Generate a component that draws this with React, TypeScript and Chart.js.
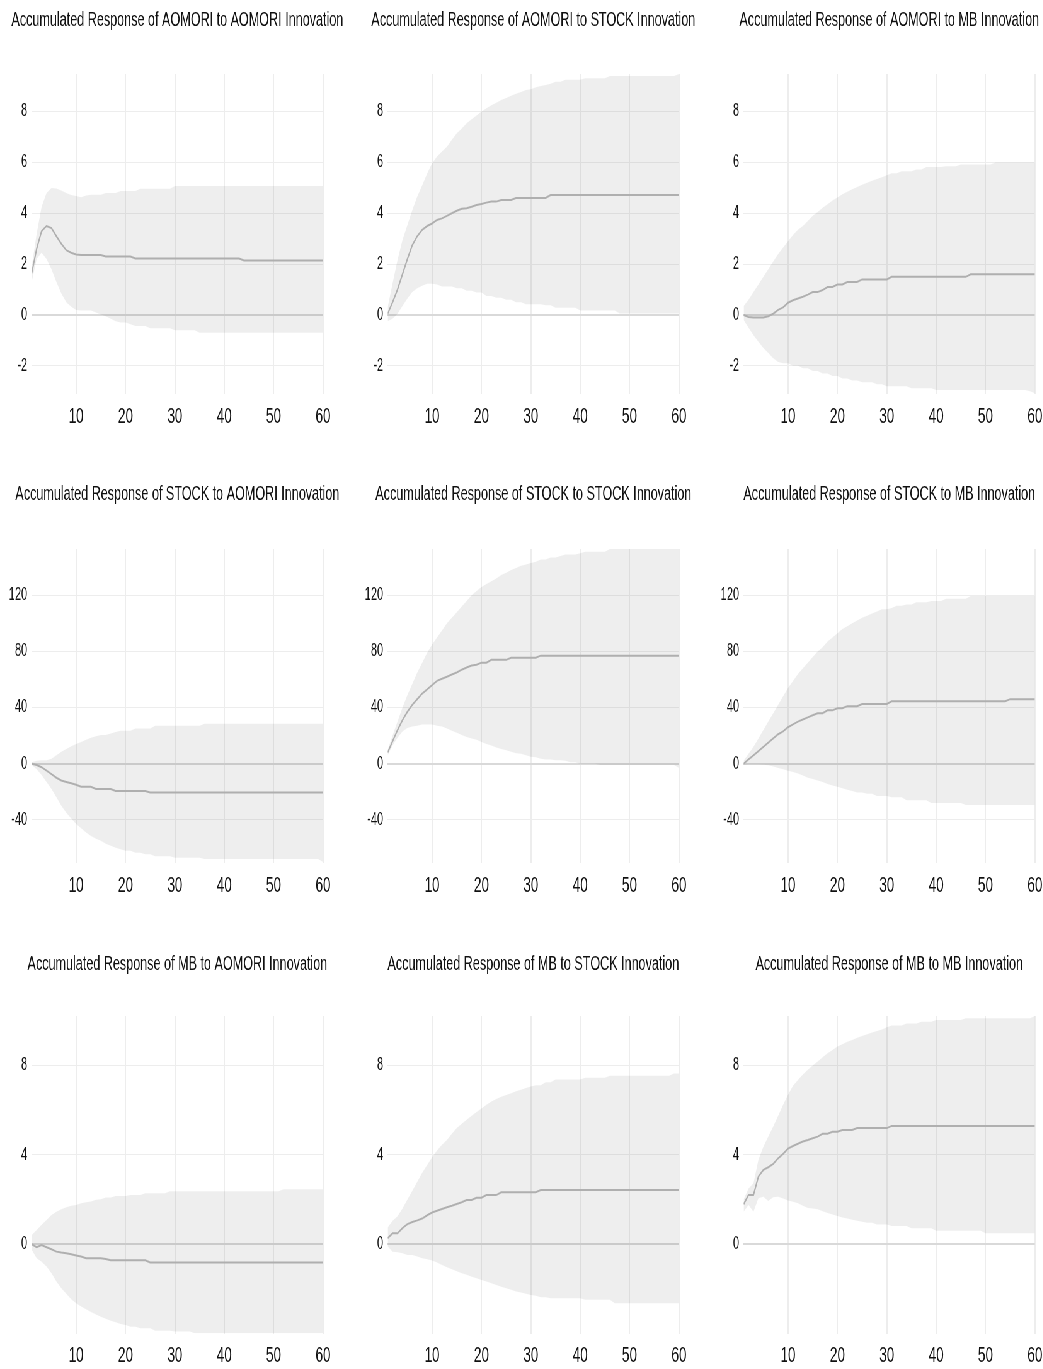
import React, { useEffect, useRef } from "react";
import { Chart, registerables } from "chart.js";

Chart.register(...registerables);

// ---------------- data ----------------
const periods = [
  1, 2, 3, 4, 5, 6, 7, 8, 9, 10, 11, 12, 13, 14, 15, 16, 17, 18, 19, 20,
  21, 22, 23, 24, 25, 26, 27, 28, 29, 30, 31, 32, 33, 34, 35, 36, 37, 38, 39, 40,
  41, 42, 43, 44, 45, 46, 47, 48, 49, 50, 51, 52, 53, 54, 55, 56, 57, 58, 59, 60,
];
const xTickValues = [10, 20, 30, 40, 50, 60];
const yTicksRow1 = [-2, 0, 2, 4, 6, 8];
const yTicksRow2 = [-40, 0, 40, 80, 120];
const yTicksRow3 = [0, 4, 8];

const titles = [
  "Accumulated Response of AOMORI to AOMORI Innovation",
  "Accumulated Response of AOMORI to STOCK Innovation",
  "Accumulated Response of AOMORI to MB Innovation",
  "Accumulated Response of STOCK to AOMORI Innovation",
  "Accumulated Response of STOCK to STOCK Innovation",
  "Accumulated Response of STOCK to MB Innovation",
  "Accumulated Response of MB to AOMORI Innovation",
  "Accumulated Response of MB to STOCK Innovation",
  "Accumulated Response of MB to MB Innovation",
];

// AOMORI <- AOMORI
const irfAA = [
  1.64, 2.6, 3.3, 3.5, 3.42, 3.1, 2.8, 2.55, 2.45, 2.38,
  2.36, 2.36, 2.36, 2.36, 2.36, 2.3, 2.3, 2.3, 2.3, 2.3,
  2.3, 2.22, 2.22, 2.22, 2.22, 2.22, 2.22, 2.22, 2.22, 2.22,
  2.22, 2.22, 2.22, 2.22, 2.22, 2.22, 2.22, 2.22, 2.22, 2.22,
  2.22, 2.22, 2.22, 2.14, 2.14, 2.14, 2.14, 2.14, 2.14, 2.14,
  2.14, 2.14, 2.14, 2.14, 2.14, 2.14, 2.14, 2.14, 2.14, 2.14,
];
const upAA = [
  1.9, 3.2, 4.26, 4.8, 5.0, 4.98, 4.9, 4.8, 4.72, 4.68,
  4.63, 4.7, 4.73, 4.73, 4.73, 4.8, 4.8, 4.8, 4.88, 4.88,
  4.88, 4.88, 4.97, 4.97, 4.97, 4.97, 4.97, 4.97, 4.97, 5.07,
  5.07, 5.07, 5.07, 5.07, 5.07, 5.07, 5.07, 5.07, 5.07, 5.07,
  5.07, 5.07, 5.07, 5.07, 5.07, 5.07, 5.07, 5.07, 5.07, 5.07,
  5.07, 5.07, 5.07, 5.07, 5.07, 5.07, 5.07, 5.07, 5.07, 5.07,
];
const loAA = [
  1.3, 2.2, 2.45, 2.2, 1.8, 1.3, 0.85, 0.5, 0.32, 0.2,
  0.18, 0.18, 0.18, 0.1, 0.02, -0.05, -0.15, -0.25, -0.3, -0.3,
  -0.36, -0.43, -0.43, -0.43, -0.52, -0.52, -0.52, -0.52, -0.52, -0.6,
  -0.6, -0.6, -0.6, -0.6, -0.7, -0.7, -0.7, -0.7, -0.7, -0.7,
  -0.7, -0.7, -0.7, -0.7, -0.7, -0.7, -0.7, -0.7, -0.7, -0.7,
  -0.7, -0.7, -0.7, -0.7, -0.7, -0.7, -0.7, -0.7, -0.7, -0.7,
];

// AOMORI <- STOCK
const irfAS = [
  0.05, 0.5, 1.0, 1.6, 2.2, 2.75, 3.1, 3.35, 3.5, 3.6,
  3.74, 3.8, 3.9, 4.0, 4.1, 4.18, 4.2, 4.26, 4.33, 4.37,
  4.42, 4.46, 4.46, 4.52, 4.52, 4.52, 4.6, 4.6, 4.6, 4.6,
  4.6, 4.6, 4.6, 4.72, 4.72, 4.72, 4.72, 4.72, 4.72, 4.72,
  4.72, 4.72, 4.72, 4.72, 4.72, 4.72, 4.72, 4.72, 4.72, 4.72,
  4.72, 4.72, 4.72, 4.72, 4.72, 4.72, 4.72, 4.72, 4.72, 4.72,
];
const upAS = [
  0.3, 1.25, 2.16, 2.95, 3.54, 4.13, 4.66, 5.1, 5.57, 5.97,
  6.23, 6.43, 6.62, 6.89, 7.15, 7.34, 7.54, 7.7, 7.85, 8.0,
  8.13, 8.25, 8.35, 8.46, 8.54, 8.62, 8.7, 8.77, 8.85, 8.88,
  8.96, 9.01, 9.05, 9.1, 9.18, 9.18, 9.25, 9.25, 9.25, 9.25,
  9.31, 9.31, 9.31, 9.31, 9.31, 9.4, 9.4, 9.4, 9.4, 9.4,
  9.4, 9.4, 9.4, 9.4, 9.4, 9.4, 9.4, 9.4, 9.4, 9.48,
];
const loAS = [
  -0.25, -0.15, 0.05, 0.35, 0.65, 0.9, 1.05, 1.15, 1.23, 1.23,
  1.2, 1.12, 1.12, 1.12, 1.05, 1.05, 0.95, 0.95, 0.88, 0.88,
  0.75, 0.75, 0.68, 0.68, 0.6, 0.6, 0.5, 0.5, 0.42, 0.42,
  0.42, 0.42, 0.38, 0.38, 0.28, 0.28, 0.28, 0.28, 0.28, 0.18,
  0.18, 0.18, 0.18, 0.18, 0.18, 0.18, 0.18, 0.06, 0.06, 0.06,
  0.06, 0.06, 0.06, 0.06, 0.06, 0.06, 0.06, 0.06, 0.06, 0.06,
];

// AOMORI <- MB
const irfAM = [
  0, -0.08, -0.1, -0.1, -0.1, -0.05, 0.05, 0.2, 0.3, 0.48,
  0.58, 0.65, 0.72, 0.8, 0.9, 0.9, 0.98, 1.1, 1.1, 1.2,
  1.2, 1.3, 1.3, 1.3, 1.4, 1.4, 1.4, 1.4, 1.4, 1.4,
  1.5, 1.5, 1.5, 1.5, 1.5, 1.5, 1.5, 1.5, 1.5, 1.5,
  1.5, 1.5, 1.5, 1.5, 1.5, 1.5, 1.6, 1.6, 1.6, 1.6,
  1.6, 1.6, 1.6, 1.6, 1.6, 1.6, 1.6, 1.6, 1.6, 1.6,
];
const upAM = [
  0.35, 0.6, 0.9, 1.2, 1.5, 1.8, 2.1, 2.4, 2.65, 2.9,
  3.15, 3.35, 3.5, 3.7, 3.9, 4.05, 4.22, 4.36, 4.5, 4.62,
  4.75, 4.85, 4.95, 5.03, 5.12, 5.2, 5.28, 5.35, 5.42, 5.5,
  5.58, 5.58, 5.65, 5.65, 5.65, 5.72, 5.72, 5.82, 5.82, 5.82,
  5.82, 5.85, 5.85, 5.85, 5.92, 5.92, 5.92, 5.92, 5.92, 5.92,
  5.92, 6.0, 6.0, 6.0, 6.0, 6.0, 6.0, 6.0, 6.0, 6.0,
];
const loAM = [
  -0.2, -0.5, -0.8, -1.05, -1.3, -1.5, -1.7, -1.85, -1.9, -1.9,
  -2.0, -2.0, -2.1, -2.1, -2.2, -2.2, -2.3, -2.3, -2.4, -2.4,
  -2.5, -2.5, -2.58, -2.58, -2.65, -2.65, -2.65, -2.72, -2.72, -2.8,
  -2.8, -2.8, -2.8, -2.8, -2.88, -2.88, -2.88, -2.88, -2.88, -2.95,
  -2.95, -2.95, -2.95, -2.95, -2.95, -2.95, -2.95, -2.95, -2.95, -2.95,
  -2.95, -2.95, -2.95, -2.95, -2.95, -2.95, -2.95, -2.95, -3.0, -3.08,
];

// STOCK <- AOMORI
const irfSA = [
  0, -1, -2.5, -5, -7.5, -10, -12, -13, -14, -15,
  -16.5, -16.5, -16.5, -18, -18, -18, -18, -19.5, -19.5, -19.5,
  -19.5, -19.5, -19.5, -19.5, -20.5, -20.5, -20.5, -20.5, -20.5, -20.5,
  -20.5, -20.5, -20.5, -20.5, -20.5, -20.5, -20.5, -20.5, -20.5, -20.5,
  -20.5, -20.5, -20.5, -20.5, -20.5, -20.5, -20.5, -20.5, -20.5, -20.5,
  -20.5, -20.5, -20.5, -20.5, -20.5, -20.5, -20.5, -20.5, -20.5, -20.5,
];
const upSA = [
  1, 2, 2.5, 2.5, 3.5, 6, 8.5, 10.5, 12.5, 14,
  15.5, 17, 18.5, 19.5, 20.5, 20.5, 21.5, 22.5, 23.5, 23.5,
  23.5, 25, 25, 25, 25, 27, 27, 27, 27, 27,
  27, 27, 27, 27, 27, 28.5, 28.5, 28.5, 28.5, 28.5,
  28.5, 28.5, 28.5, 28.5, 28.5, 28.5, 28.5, 28.5, 28.5, 28.5,
  28.5, 28.5, 28.5, 28.5, 28.5, 28.5, 28.5, 28.5, 28.5, 28.5,
];
const loSA = [
  -1, -4, -8, -13, -18, -24, -30, -35, -39, -43,
  -46, -49, -51.5, -53.5, -55, -57, -58.5, -60, -61, -62,
  -62, -63.5, -63.5, -64.5, -64.5, -66, -66, -66, -66, -67,
  -67, -67, -67, -67, -67, -68, -68, -68, -68, -68,
  -68, -68, -68, -68, -68, -68, -68, -68, -68, -68,
  -68, -68, -68, -68, -68, -68, -68, -68, -68, -70,
];

// STOCK <- STOCK
const irfSS = [
  8, 16, 24, 31, 37, 42, 46, 50, 53, 56,
  59, 60.5, 62, 63.5, 65, 67, 68.5, 70, 70.5, 72,
  72, 74, 74, 74, 74, 75.5, 75.5, 75.5, 75.5, 75.5,
  75.5, 77, 77, 77, 77, 77, 77, 77, 77, 77,
  77, 77, 77, 77, 77, 77, 77, 77, 77, 77,
  77, 77, 77, 77, 77, 77, 77, 77, 77, 77,
];
const upSS = [
  10, 20, 30, 40, 49, 57, 65, 72, 79, 85,
  90, 95, 100, 104, 108, 112, 116, 120, 123, 126,
  128, 130, 132, 134.5, 136, 138, 139.5, 141, 142, 143,
  144, 145.5, 145.5, 147, 147, 148, 149, 149, 149, 150,
  151, 151, 151, 151, 151, 153, 153, 153, 153, 153,
  153, 153, 153, 153, 153, 153, 153, 153, 153, 153,
];
const loSS = [
  6, 13, 18.5, 23, 25.5, 26.5, 27, 28, 28, 28,
  27, 26.5, 25, 23.5, 22, 20.5, 19, 18, 17, 15.5,
  14, 13, 11.5, 10.5, 9.5, 8.5, 7.5, 7, 6, 5,
  4.5, 3.5, 3, 3, 2.5, 2.5, 2, 1, 1, 0,
  0, 0, 0, -1, -1, -1, -1, -1, -1, -1,
  -1, -1, -1, -1, -1, -1, -1, -1, -1, -3,
];

// STOCK <- MB
const irfSM = [
  0, 3, 6, 9, 12, 15, 18, 21, 23, 26,
  28, 30, 31.5, 33, 34.5, 36, 36, 38, 38, 39.5,
  39.5, 41, 41, 41, 42.5, 42.5, 42.5, 42.5, 42.5, 42.5,
  44.5, 44.5, 44.5, 44.5, 44.5, 44.5, 44.5, 44.5, 44.5, 44.5,
  44.5, 44.5, 44.5, 44.5, 44.5, 44.5, 44.5, 44.5, 44.5, 44.5,
  44.5, 44.5, 44.5, 44.5, 46, 46, 46, 46, 46, 46,
];
const upSM = [
  2, 7, 12, 18, 24, 30, 36, 42, 48, 54,
  59, 64, 68, 72, 76, 80, 83, 87, 90, 93,
  96, 98, 100, 102, 104, 105.5, 107, 108.5, 110, 110,
  111, 112.5, 112.5, 113.5, 113.5, 115, 115, 115, 116, 116,
  116, 117.5, 117.5, 117.5, 117.5, 117.5, 119.5, 119.5, 119.5, 119.5,
  119.5, 119.5, 119.5, 119.5, 119.5, 119.5, 119.5, 119.5, 119.5, 119.5,
];
const loSM = [
  -1, -0.5, -0.5, -0.5, -0.8, -1.2, -2, -3, -4, -5,
  -6, -7, -8.5, -10, -11, -12, -13, -14.5, -15.5, -16.5,
  -17.5, -18.5, -19.5, -20.5, -20.5, -21.5, -21.5, -23, -23, -23,
  -24, -24, -24, -26, -26, -26, -26, -26, -28, -28,
  -28, -28, -28, -28, -28, -29.5, -29.5, -29.5, -29.5, -29.5,
  -29.5, -29.5, -29.5, -29.5, -29.5, -29.5, -29.5, -29.5, -29.5, -29.5,
];

// MB <- AOMORI
const irfMA = [
  0, -0.13, -0.03, -0.13, -0.22, -0.33, -0.37, -0.4, -0.45, -0.5,
  -0.55, -0.63, -0.63, -0.63, -0.63, -0.66, -0.72, -0.72, -0.72, -0.72,
  -0.72, -0.72, -0.72, -0.72, -0.82, -0.82, -0.82, -0.82, -0.82, -0.82,
  -0.82, -0.82, -0.82, -0.82, -0.82, -0.82, -0.82, -0.82, -0.82, -0.82,
  -0.82, -0.82, -0.82, -0.82, -0.82, -0.82, -0.82, -0.82, -0.82, -0.82,
  -0.82, -0.82, -0.82, -0.82, -0.82, -0.82, -0.82, -0.82, -0.82, -0.82,
];
const upMA = [
  0.42, 0.64, 0.87, 1.09, 1.31, 1.46, 1.57, 1.66, 1.72, 1.76,
  1.84, 1.88, 1.91, 1.99, 2.01, 2.09, 2.09, 2.16, 2.16, 2.16,
  2.21, 2.21, 2.21, 2.28, 2.28, 2.28, 2.28, 2.28, 2.37, 2.37,
  2.37, 2.37, 2.37, 2.37, 2.37, 2.37, 2.37, 2.37, 2.37, 2.37,
  2.37, 2.37, 2.37, 2.37, 2.37, 2.37, 2.37, 2.37, 2.37, 2.37,
  2.37, 2.46, 2.46, 2.46, 2.46, 2.46, 2.46, 2.46, 2.46, 2.46,
];
const loMA = [
  -0.25, -0.63, -0.78, -1.0, -1.3, -1.67, -1.97, -2.22, -2.46, -2.64,
  -2.79, -2.91, -3.03, -3.15, -3.24, -3.33, -3.42, -3.49, -3.57, -3.61,
  -3.69, -3.69, -3.76, -3.76, -3.76, -3.87, -3.87, -3.87, -3.87, -3.91,
  -3.91, -3.91, -3.91, -3.98, -3.98, -3.98, -3.98, -3.98, -3.98, -3.98,
  -3.98, -3.98, -3.98, -3.98, -3.98, -3.98, -3.98, -3.98, -3.98, -3.98,
  -3.98, -3.98, -3.98, -3.98, -3.98, -3.98, -3.98, -3.98, -3.98, -3.98,
];

// MB <- STOCK
const irfMS = [
  0.27, 0.49, 0.49, 0.72, 0.9, 1.0, 1.07, 1.15, 1.3, 1.42,
  1.5, 1.58, 1.66, 1.72, 1.8, 1.88, 1.98, 1.98, 2.08, 2.08,
  2.2, 2.2, 2.2, 2.33, 2.33, 2.33, 2.33, 2.33, 2.33, 2.33,
  2.33, 2.43, 2.43, 2.43, 2.43, 2.43, 2.43, 2.43, 2.43, 2.43,
  2.43, 2.43, 2.43, 2.43, 2.43, 2.43, 2.43, 2.43, 2.43, 2.43,
  2.43, 2.43, 2.43, 2.43, 2.43, 2.43, 2.43, 2.43, 2.43, 2.43,
];
const upMS = [
  0.75, 1.05, 1.25, 1.6, 2.0, 2.4, 2.8, 3.2, 3.55, 3.9,
  4.2, 4.45, 4.67, 4.95, 5.2, 5.4, 5.57, 5.75, 5.92, 6.08,
  6.25, 6.39, 6.5, 6.6, 6.68, 6.76, 6.85, 6.92, 7.0, 7.06,
  7.12, 7.12, 7.25, 7.25, 7.38, 7.38, 7.38, 7.38, 7.38, 7.38,
  7.45, 7.45, 7.45, 7.45, 7.45, 7.55, 7.55, 7.55, 7.55, 7.55,
  7.55, 7.55, 7.55, 7.55, 7.55, 7.55, 7.55, 7.55, 7.65, 7.65,
];
const loMS = [
  -0.1, -0.33, -0.36, -0.4, -0.48, -0.48, -0.55, -0.63, -0.67, -0.73,
  -0.82, -0.93, -1.03, -1.12, -1.21, -1.3, -1.37, -1.45, -1.52, -1.6,
  -1.67, -1.75, -1.82, -1.9, -1.97, -2.04, -2.12, -2.16, -2.22, -2.27,
  -2.31, -2.37, -2.37, -2.42, -2.42, -2.42, -2.42, -2.42, -2.42, -2.42,
  -2.49, -2.49, -2.49, -2.49, -2.49, -2.49, -2.64, -2.64, -2.64, -2.64,
  -2.64, -2.64, -2.64, -2.64, -2.64, -2.64, -2.64, -2.64, -2.64, -2.64,
];

// MB <- MB
const irfMM = [
  1.79, 2.21, 2.21, 3.03, 3.33, 3.45, 3.6, 3.85, 4.05, 4.28,
  4.4, 4.5, 4.6, 4.67, 4.75, 4.82, 4.95, 4.95, 5.04, 5.04,
  5.12, 5.12, 5.12, 5.2, 5.2, 5.2, 5.2, 5.2, 5.2, 5.2,
  5.3, 5.3, 5.3, 5.3, 5.3, 5.3, 5.3, 5.3, 5.3, 5.3,
  5.3, 5.3, 5.3, 5.3, 5.3, 5.3, 5.3, 5.3, 5.3, 5.3,
  5.3, 5.3, 5.3, 5.3, 5.3, 5.3, 5.3, 5.3, 5.3, 5.3,
];
const upMM = [
  2.0, 2.5, 2.73, 3.78, 4.37, 4.82, 5.27, 5.75, 6.25, 6.69,
  7.1, 7.36, 7.6, 7.81, 8.0, 8.18, 8.37, 8.55, 8.7, 8.85,
  8.96, 9.07, 9.15, 9.25, 9.32, 9.4, 9.48, 9.55, 9.62, 9.72,
  9.8, 9.8, 9.8, 9.88, 9.88, 9.88, 9.96, 9.96, 9.96, 10.04,
  10.04, 10.04, 10.04, 10.04, 10.04, 10.12, 10.12, 10.12, 10.12, 10.12,
  10.12, 10.12, 10.12, 10.12, 10.12, 10.12, 10.12, 10.12, 10.12, 10.22,
];
const loMM = [
  1.46, 1.76, 1.46, 2.06, 2.13, 1.94, 2.1, 2.13, 2.05, 1.96,
  1.9, 1.84, 1.72, 1.62, 1.6, 1.57, 1.48, 1.4, 1.33, 1.27,
  1.2, 1.15, 1.1, 1.05, 1.01, 0.96, 0.96, 0.89, 0.89, 0.89,
  0.82, 0.82, 0.82, 0.82, 0.72, 0.72, 0.72, 0.72, 0.72, 0.6,
  0.6, 0.6, 0.6, 0.6, 0.6, 0.6, 0.6, 0.6, 0.6, 0.49,
  0.49, 0.49, 0.49, 0.49, 0.49, 0.49, 0.49, 0.49, 0.49, 0.49,
];

const irfs = [irfAA, irfAS, irfAM, irfSA, irfSS, irfSM, irfMA, irfMS, irfMM];
const uppers = [upAA, upAS, upAM, upSA, upSS, upSM, upMA, upMS, upMM];
const lowers = [loAA, loAS, loAM, loSA, loSS, loSM, loMA, loMS, loMM];

const rowYTicks = [yTicksRow1, yTicksRow2, yTicksRow3];
const rowYMin = [-3.12, -71, -4.0];
const rowYMax = [9.48, 153, 10.22];

// ---------------- layout / style ----------------
const S = 0.63; // horizontal compression of the whole figure
const FONT = "'Liberation Sans', Arial, sans-serif";
const TEXT = "#111111";
const GRID = "#ededed";
const ZERO = "#d9d9d9";
const BAND = "rgba(0,0,0,0.065)";
const LINE = "#bcbcbc";

const rowTop = [0, 470, 940];
const rowTitleCenter = [20, 24, 24];
const rowPlotTop = [74, 79, 76];
const rowPlotBottom = [394.3, 393.3, 393.6];
const rowCanvasH = [440, 440, 429];

const colLeft = [0, 356, 711.6]; // screen px
const Y_AXIS_W = 31.7; // screen px
const PLOT_W = 291.3; // screen px
const CANVAS_W = 2 * Y_AXIS_W + PLOT_W; // symmetric around plot centre, screen px

function Panel({ idx }: { idx: number }) {
  const ref = useRef<HTMLCanvasElement | null>(null);
  const r = Math.floor(idx / 3);
  const c = idx % 3;
  const W = Math.round(CANVAS_W / S);
  const H = rowCanvasH[r];
  const left = colLeft[c] / S;
  const yW = Y_AXIS_W / S;
  const plotW = PLOT_W / S;
  const padR = W - yW - plotW;

  useEffect(() => {
    const toPts = (arr: number[]) => arr.map((v, i) => ({ x: periods[i], y: v }));
    const yTicks = rowYTicks[r];
    const tc = rowTitleCenter[r];
    const chart = new Chart(ref.current as HTMLCanvasElement, {
      type: "line",
      data: {
        datasets: [
          {
            data: toPts(lowers[idx]),
            borderWidth: 0,
            borderColor: "rgba(0,0,0,0)",
            pointRadius: 0,
            fill: false,
          },
          {
            data: toPts(uppers[idx]),
            borderWidth: 0,
            borderColor: "rgba(0,0,0,0)",
            backgroundColor: BAND,
            pointRadius: 0,
            fill: "-1",
          },
          {
            data: toPts(irfs[idx]),
            borderColor: LINE,
            borderWidth: 2,
            pointRadius: 0,
            fill: false,
          },
        ],
      } as any,
      options: {
        animation: false,
        responsive: false,
        events: [],
        layout: { padding: 0 },
        plugins: {
          legend: { display: false },
          tooltip: { enabled: false },
          title: {
            display: true,
            text: titles[idx],
            color: TEXT,
            fullSize: true,
            font: { family: FONT, size: 20, weight: "normal", lineHeight: 1.2 },
            padding: { top: tc - 12, bottom: rowPlotTop[r] - tc - 12 },
          },
        },
        scales: {
          x: {
            type: "linear",
            min: 1,
            max: 60,
            afterBuildTicks: (s: any) => {
              s.ticks = xTickValues.map((v) => ({ value: v }));
            },
            afterFit: (s: any) => {
              s.height = H - rowPlotBottom[r];
              s.paddingLeft = 0;
              s.paddingRight = padR;
            },
            grid: { color: GRID, lineWidth: 2, drawTicks: false },
            border: { display: false },
            ticks: {
              color: TEXT,
              font: { family: FONT, size: 21.5 },
              padding: 10,
              maxRotation: 0,
              autoSkip: false,
              callback: (v: any) => String(v),
            },
          },
          y: {
            type: "linear",
            min: rowYMin[r],
            max: rowYMax[r],
            afterBuildTicks: (s: any) => {
              s.ticks = yTicks.map((v) => ({ value: v }));
            },
            afterFit: (s: any) => {
              s.width = yW;
              s.paddingTop = 0;
              s.paddingBottom = 0;
            },
            grid: {
              color: (ctx: any) => (ctx.tick && ctx.tick.value === 0 ? ZERO : GRID),
              lineWidth: (ctx: any) => (ctx.tick && ctx.tick.value === 0 ? 2 : 1),
              drawTicks: false,
            },
            border: { display: false },
            ticks: {
              color: TEXT,
              font: { family: FONT, size: 17.5 },
              padding: 7,
              autoSkip: false,
              callback: (v: any) => String(v),
            },
          },
        },
      } as any,
    });
    return () => chart.destroy();
  }, [idx]);

  return (
    <canvas
      ref={ref}
      width={W}
      height={H}
      style={{ position: "absolute", left, top: rowTop[r], width: W, height: H }}
    />
  );
}

export default function App() {
  return (
    <div
      style={{
        position: "absolute",
        left: 0,
        top: 0,
        width: 1043,
        height: 1369,
        overflow: "hidden",
        background: "#ffffff",
      }}
    >
      <div
        style={{
          position: "absolute",
          left: 0,
          top: 0,
          width: 1043 / S + 40,
          height: 1369,
          transform: `scaleX(${S})`,
          transformOrigin: "0 0",
        }}
      >
        {titles.map((_, i) => (
          <Panel key={i} idx={i} />
        ))}
      </div>
    </div>
  );
}
